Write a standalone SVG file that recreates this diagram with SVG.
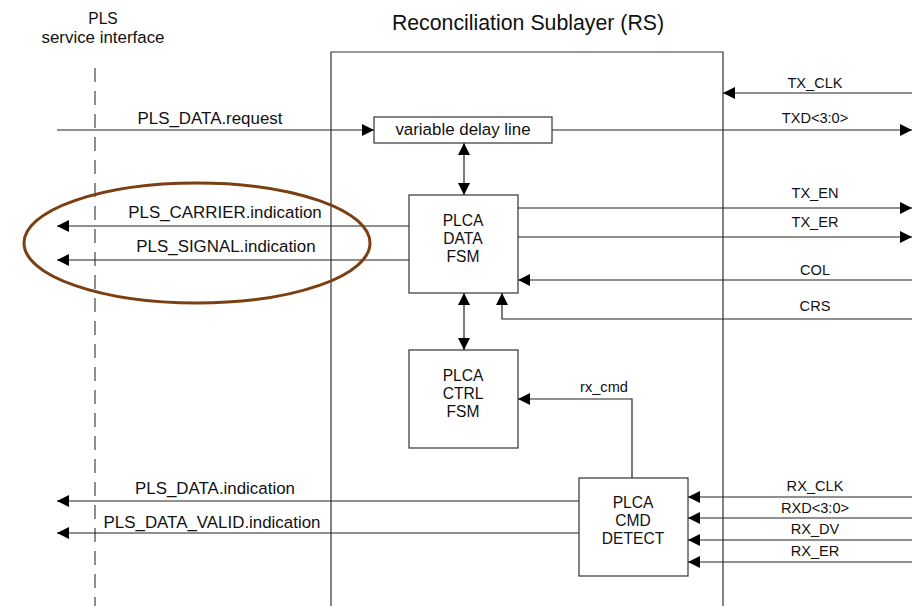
<svg xmlns="http://www.w3.org/2000/svg" width="920" height="606" viewBox="0 0 920 606">
  <style>
    .bg { fill: #ffffff; }
    .box { fill: #ffffff; stroke: #333333; stroke-width: 1.2; }
    .wire { fill: none; stroke: #222222; stroke-width: 1.2; }
    .frame { fill: none; stroke: #333333; stroke-width: 1.2; }
    .dash { fill: none; stroke: #444444; stroke-width: 1.2; stroke-dasharray: 14 9; }
    .ring { fill: none; stroke: #7b3f12; stroke-width: 3; }
    text { font-family: "Liberation Sans", Arial, sans-serif; fill: #111111; text-anchor: middle; }
    .big { font-size: 16.9px; }
    .stack { font-size: 15.6px; }
    .sig { font-size: 14.6px; }
    .title { font-size: 21.3px; }
  </style>
  <defs>
    <marker id="tip" viewBox="0 0 12 12" refX="12" refY="6" markerWidth="12" markerHeight="12" markerUnits="userSpaceOnUse" orient="auto-start-reverse">
      <path d="M0,0 L12,6 L0,12 z" fill="#000000"/>
    </marker>
  </defs>

  <rect class="bg" x="0" y="0" width="920" height="606"/>

  <!-- headings -->
  <g id="headings">
    <text class="stack" x="103" y="24">PLS</text>
    <text class="big" x="103" y="42.5">service interface</text>
    <text class="title" x="528" y="30">Reconciliation Sublayer (RS)</text>
  </g>

  <!-- service interface boundary and RS frame -->
  <g id="frame">
    <path class="dash" d="M95,68 V606"/>
    <path class="frame" d="M331,606 V52 H723 V606"/>
  </g>

  <!-- connectors -->
  <g id="connectors">
    <path class="wire" d="M57,130 H374" marker-end="url(#tip)"/>
    <path class="wire" d="M912,93 H723" marker-end="url(#tip)"/>
    <path class="wire" d="M552,130 H912" marker-end="url(#tip)"/>
    <path class="wire" d="M464,143 V195" marker-start="url(#tip)" marker-end="url(#tip)"/>
    <path class="wire" d="M518,208 H912" marker-end="url(#tip)"/>
    <path class="wire" d="M518,237 H912" marker-end="url(#tip)"/>
    <path class="wire" d="M912,280 H518" marker-end="url(#tip)"/>
    <path class="wire" d="M912,319 H502 V293" marker-end="url(#tip)"/>
    <path class="wire" d="M409,226 H57" marker-end="url(#tip)"/>
    <path class="wire" d="M409,260 H57" marker-end="url(#tip)"/>
    <path class="wire" d="M464,293 V350" marker-start="url(#tip)" marker-end="url(#tip)"/>
    <path class="wire" d="M632,478 V399 H518" marker-end="url(#tip)"/>
    <path class="wire" d="M579,501 H57" marker-end="url(#tip)"/>
    <path class="wire" d="M579,533 H57" marker-end="url(#tip)"/>
    <path class="wire" d="M912,497 H688" marker-end="url(#tip)"/>
    <path class="wire" d="M912,518 H688" marker-end="url(#tip)"/>
    <path class="wire" d="M912,540 H688" marker-end="url(#tip)"/>
    <path class="wire" d="M912,562 H688" marker-end="url(#tip)"/>

    <!-- signal labels -->
    <text class="big" x="210" y="124">PLS_DATA.request</text>
    <text class="big" x="225" y="218">PLS_CARRIER.indication</text>
    <text class="big" x="226" y="252">PLS_SIGNAL.indication</text>
    <text class="big" x="215" y="494">PLS_DATA.indication</text>
    <text class="big" x="212" y="528">PLS_DATA_VALID.indication</text>
    <text class="sig" x="815" y="88">TX_CLK</text>
    <text class="sig" x="815" y="123">TXD&lt;3:0&gt;</text>
    <text class="sig" x="815" y="198">TX_EN</text>
    <text class="sig" x="815" y="227">TX_ER</text>
    <text class="sig" x="815" y="275">COL</text>
    <text class="sig" x="815" y="311">CRS</text>
    <text class="sig" x="604" y="392">rx_cmd</text>
    <text class="sig" x="815" y="491">RX_CLK</text>
    <text class="sig" x="815" y="513">RXD&lt;3:0&gt;</text>
    <text class="sig" x="815" y="534">RX_DV</text>
    <text class="sig" x="815" y="556">RX_ER</text>
  </g>

  <!-- nodes -->
  <g id="delay-line">
    <rect class="box" x="374" y="117" width="178" height="26"/>
    <text class="big" x="463" y="135">variable delay line</text>
  </g>

  <g id="data-fsm">
    <rect class="box" x="409" y="195" width="109" height="98"/>
    <text class="stack" x="463" y="226">PLCA</text>
    <text class="stack" x="463" y="244">DATA</text>
    <text class="stack" x="463" y="262">FSM</text>
  </g>

  <g id="ctrl-fsm">
    <rect class="box" x="409" y="350" width="109" height="98"/>
    <text class="stack" x="463" y="381">PLCA</text>
    <text class="stack" x="463" y="399">CTRL</text>
    <text class="stack" x="463" y="417">FSM</text>
  </g>

  <g id="cmd-detect">
    <rect class="box" x="579" y="478" width="109" height="98"/>
    <text class="stack" x="633" y="508">PLCA</text>
    <text class="stack" x="633" y="526">CMD</text>
    <text class="stack" x="633" y="544">DETECT</text>
  </g>

  <!-- highlight around the carrier/signal indications -->
  <g id="highlight">
    <ellipse class="ring" cx="197" cy="243" rx="173" ry="60"/>
  </g>
</svg>
